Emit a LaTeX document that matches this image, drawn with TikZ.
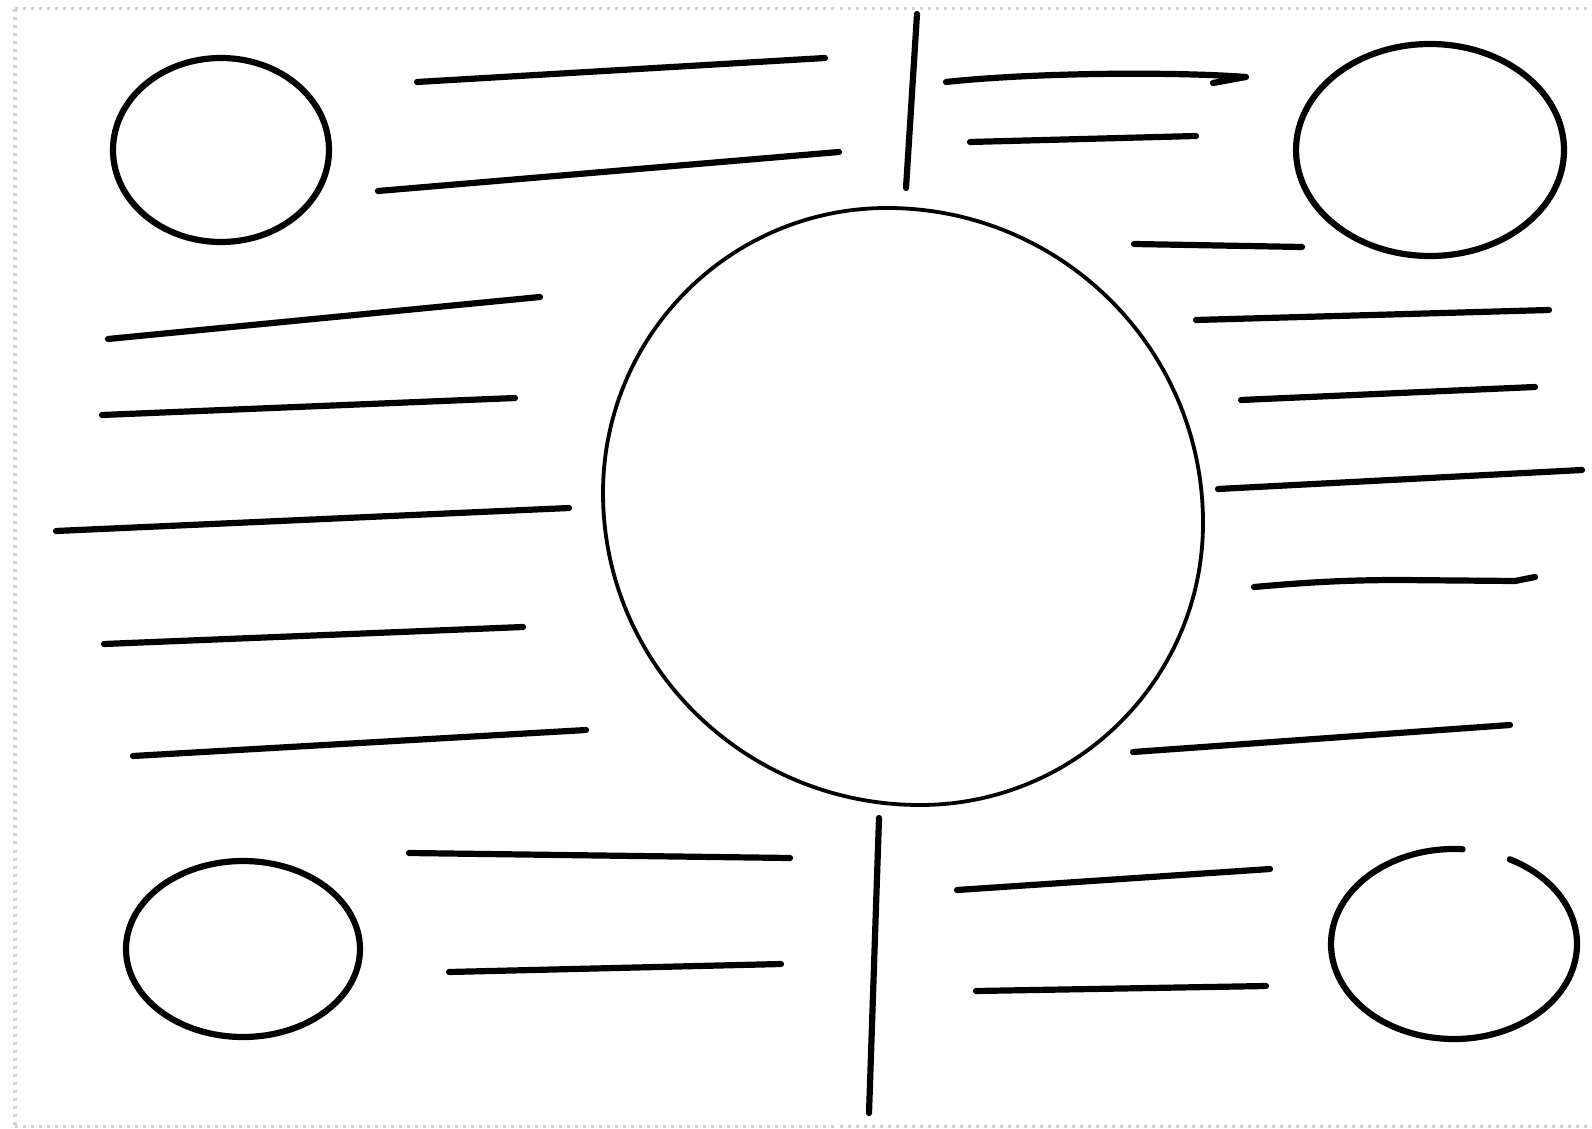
\documentclass[tikz,border=0pt]{standalone}
\begin{document}
\begin{tikzpicture}[x=0.01cm,y=0.01cm,
  stroke/.style={line width=0.062cm,line cap=round,line join=round},
  thin stroke/.style={line width=0.038cm},
  frame/.style={draw={rgb,255:red,210;green,210;blue,210},line width=0.03cm,dash pattern=on 0.03cm off 0.05cm}]
\useasboundingbox (0,0) rectangle (1592,-1128);
% dotted frame
\draw[frame] (15,-9) -- (1592,-9);
\draw[frame] (15,-9) -- (15,-1126);
\draw[frame] (15,-1126) -- (1592,-1126);
% central circle (hand drawn, slightly skewed)
\draw[thin stroke] (887,-208)
  .. controls (1061.5,-208) and (1203,-349) .. (1203,-523)
  .. controls (1203,-678.7) and (1076.3,-805) .. (920,-805)
  .. controls (745,-805) and (603,-665.3) .. (603,-493)
  .. controls (603,-335.6) and (730.1,-208) .. (887,-208) -- cycle;
% corner ellipses
\draw[stroke] (221,-150) ellipse [x radius=108, y radius=92];
\draw[stroke] (1430,-150) ellipse [x radius=134, y radius=106];
\draw[stroke] (243,-949) ellipse [x radius=117, y radius=88];
\draw[stroke] (1454,-944) ++(86:123 and 95) arc [start angle=86, end angle=423, x radius=123, y radius=95];
% top area
\draw[stroke] (417,-82) -- (825,-58);
\draw[stroke] (378,-191) -- (839,-152);
\draw[stroke] (917,-14) -- (906,-188);
\draw[stroke] (946,-82) .. controls (1040,-72) and (1180,-72) .. (1246,-77) -- (1213,-83);
\draw[stroke] (970,-142) -- (1196,-136);
\draw[stroke] (1134,-244) -- (1302,-247);
% right lines
\draw[stroke] (1196,-320) -- (1549,-310);
\draw[stroke] (1241,-400) -- (1535,-387);
\draw[stroke] (1218,-489) -- (1582,-470);
\draw[stroke] (1254,-587) .. controls (1300,-583) and (1340,-580) .. (1400,-580) -- (1515,-581) -- (1535,-577);
\draw[stroke] (1133,-752) -- (1510,-725);
% left lines
\draw[stroke] (108,-339) -- (540,-297);
\draw[stroke] (102,-415) -- (515,-398);
\draw[stroke] (56,-531) -- (569,-508);
\draw[stroke] (104,-644) -- (523,-627);
\draw[stroke] (133,-756) -- (586,-730);
% bottom area
\draw[stroke] (409,-853) -- (790,-858);
\draw[stroke] (449,-972) -- (781,-964);
\draw[stroke] (879,-818) -- (869,-1113);
\draw[stroke] (957,-890) -- (1270,-869);
\draw[stroke] (976,-991) -- (1266,-986);
\end{tikzpicture}
\end{document}
